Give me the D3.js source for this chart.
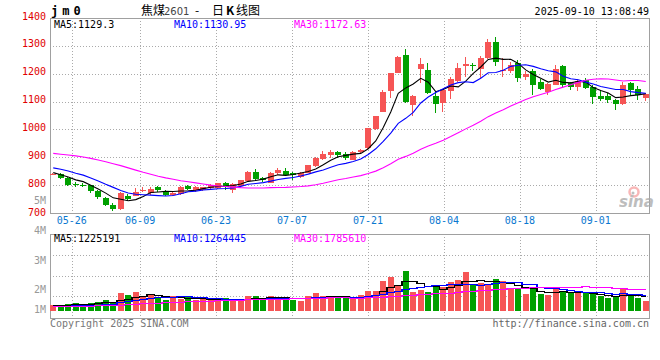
<!DOCTYPE html>
<meta charset="utf-8">
<script src="https://d3js.org/d3.v7.min.js"></script>
<style>
  body { margin: 0; background: #fff; }
  text { font-family: "DejaVu Sans Mono", monospace; font-size: 10px; }
</style>
<div id="chart"></div>
<script>

// trading days on the chart
var dates = ["05-21","05-22","05-23","05-26","05-27","05-28","05-29","05-30",
  "06-03","06-04","06-05","06-06","06-09","06-10","06-11","06-12","06-13","06-16","06-17","06-18","06-19","06-20",
  "06-23","06-24","06-25","06-26","06-27","06-30","07-01","07-02","07-03","07-04",
  "07-07","07-08","07-09","07-10","07-11","07-14","07-15","07-16","07-17","07-18",
  "07-21","07-22","07-23","07-24","07-25","07-28","07-29","07-30","07-31","08-01",
  "08-04","08-05","08-06","08-07","08-08","08-11","08-12","08-13","08-14","08-15",
  "08-18","08-19","08-20","08-21","08-22","08-25","08-26","08-27","08-28","08-29",
  "09-01","09-02","09-03","09-04","09-05","09-08","09-09","09-10"];
var tickDates = ["05-26","06-09","06-23","07-07","07-21","08-04","08-18","09-01"];

var open  = [838,840,826,804,802,799,780,755,728,714,762,762,778,772,792,780,763,769,797,781,
             781,791,790,806,781,797,816,847,824,809,845,851,842,829,844,867,895,909,920,911,
             890,920,932,1000,1064,1138,1204,1267,1089,1217,1213,1120,1096,1139,1175,1226,1233,1216,1255,1315,
             1208,1211,1237,1189,1208,1171,1135,1160,1226,1165,1151,1177,1151,1120,1120,1106,1092,1166,1144,1112];
var high  = [844,843,828,810,808,802,783,758,735,774,768,790,793,795,796,782,778,797,802,797,
             795,804,808,811,806,820,849,857,830,847,860,861,846,848,874,901,922,926,924,918,
             922,930,1006,1050,1140,1203,1263,1289,1125,1255,1239,1136,1146,1190,1237,1259,1240,1262,1325,1331,
             1255,1243,1250,1211,1216,1180,1165,1230,1230,1172,1180,1184,1160,1141,1129,1108,1172,1172,1155,1130];
var low   = [835,822,798,795,792,773,752,725,706,712,744,760,774,765,777,760,760,765,783,776,
             778,787,787,783,773,795,814,816,810,806,836,832,818,826,842,865,890,897,896,890,
             889,916,930,997,1062,1112,1202,1096,1048,1166,1128,1060,1064,1110,1172,1189,1210,1184,1252,1228,
             1189,1201,1170,1178,1124,1140,1124,1158,1153,1140,1137,1144,1091,1102,1096,1070,1088,1124,1106,1102];
var close = [841,825,801,799,797,778,756,727,714,771,752,776,784,785,781,763,773,794,786,792,
             792,799,806,793,804,818,847,822,817,845,854,837,838,845,872,899,912,920,908,896,
             920,926,1004,1048,1135,1201,1261,1100,1120,1235,1132,1090,1142,1180,1220,1234,1229,1258,1315,1243,
             1212,1231,1184,1198,1160,1145,1163,1216,1160,1151,1174,1148,1118,1109,1104,1091,1160,1143,1122,1127];

var volume = [500000,500000,580000,690000,580000,690000,740000,910000,640000,1510000,
              1320000,1600000,1180000,1430000,1180000,910000,1260000,970000,1130000,910000,
              970000,910000,910000,1100000,910000,910000,1240000,1240000,1050000,1240000,
              1130000,1130000,910000,850000,1240000,1460000,1240000,1240000,1050000,1050000,
              1050000,1320000,1650000,1650000,2480000,2830000,2170000,3330000,1570000,1740000,
              1570000,2170000,1960000,2400000,2560000,3220000,2170000,2340000,2170000,2640000,
              2480000,1790000,1790000,1400000,1960000,1400000,1320000,1880000,1650000,1510000,
              1510000,1460000,1460000,1240000,1050000,1180000,1790000,1400000,1050000,830000];

// moving averages before a full window exists
var ma5Head  = [845,837,829,819];
var ma10Head = [862,857,851,843,836,826,815,803,792];
var ma30Head = [914,911,908,905,901,896,890,884,877,870,862,854,846,839,832,826,821,816,812,808,
                804,800,797,795,793,791,790,790,790];
var vma5Head  = [500000,500000,520000,550000];
var vma10Head = [420000,430000,440000,460000,480000,500000,520000,550000,580000];
var vma30Head = [400000,410000,420000,430000,440000,450000,460000,470000,480000,530000,
                 570000,610000,640000,670000,700000,720000,740000,760000,790000,810000,
                 830000,850000,880000,900000,920000,940000,960000,970000,980000];

var priceTicks = [700,800,900,1000,1100,1200,1300,1400];
var volTicks = [5000000,4000000,3000000,2000000,1000000];
var volTickLabels = ["5M","4M","3M","2M","1M"];
var priceMaLabels = ["MA5:1129.3","MA10:1130.95","MA30:1172.63"];
var volMaLabels = ["MA5:1225191","MA10:1264445","MA30:1785610"];
var maColors = ["#000000","#0000ff","#ff00ff"];

var svg = d3.select("#chart").append("svg")
  .attr("width", 660).attr("height", 360);

var L = 50, R = 649;
var pTop = 18, pBot = 213, vTop = 234, vBot = 318;

var x = d3.scaleBand().domain(d3.range(dates.length))
  .range([49.5, 649.5]).paddingInner(0.2).paddingOuter(0.1);
var xt = d3.scaleLinear().domain([0, dates.length - 1]).range([49, 649]);
var y = d3.scaleLinear().domain([700, 1400]).range([pBot, pTop]);
var vy = d3.scaleLinear().domain([0, 6360000]).range([311, vTop]);
var vLabel = d3.scaleLinear().domain([2000000, 5000000]).range([293.3, 204]);

function cx(i) { return x(i) + x.bandwidth() / 2; }
function snap(v) { return Math.round(v) + 0.5; }

function movingAvg(values, n, head) {
  return values.map(function(v, i) {
    if (i < n - 1) return head[i];
    return d3.mean(values.slice(i - n + 1, i + 1));
  });
}

var priceMa = [movingAvg(close, 5, ma5Head), movingAvg(close, 10, ma10Head), movingAvg(close, 30, ma30Head)];
var volMa = [movingAvg(volume, 5, vma5Head), movingAvg(volume, 10, vma10Head), movingAvg(volume, 30, vma30Head)];

// grid
var grid = svg.append("g").attr("stroke", "#aaa").attr("stroke-dasharray", "1,2")
  .attr("shape-rendering", "crispEdges");
priceTicks.slice(1, -1).forEach(function(p) {
  grid.append("line").attr("x1", L).attr("x2", R).attr("y1", snap(y(p))).attr("y2", snap(y(p)));
});
[vTop + 21, vTop + 41.5, vTop + 61.5].forEach(function(v) {
  grid.append("line").attr("x1", L).attr("x2", R).attr("y1", snap(v)).attr("y2", snap(v));
});
tickDates.forEach(function(d) {
  var gx = snap(xt(dates.indexOf(d)));
  grid.append("line").attr("x1", gx).attr("x2", gx).attr("y1", pTop).attr("y2", pBot);
  grid.append("line").attr("x1", gx).attr("x2", gx).attr("y1", vTop).attr("y2", vBot);
});

// frames
var frame = svg.append("g").attr("stroke", "#a0a0a0").attr("fill", "none")
  .attr("shape-rendering", "crispEdges");
frame.append("path").attr("d", "M" + (L + 0.5) + "," + (pTop + 0.5) + "H" + R + "V" + (pBot + 0.5) + "H" + (L + 0.5) + "Z");
frame.append("path").attr("d", "M" + (L + 0.5) + "," + (vTop + 0.5) + "H" + R + "V" + (vBot + 0.5) + "H" + (L + 0.5) + "Z");
frame.append("line").attr("x1", R + 0.5).attr("x2", R + 0.5).attr("y1", pTop).attr("y2", pBot + 1);
frame.append("line").attr("x1", R + 0.5).attr("x2", R + 0.5).attr("y1", vTop).attr("y2", vBot + 1);

// sina watermark
var wm = svg.append("g").attr("opacity", 0.75);
wm.append("circle").attr("cx", 634).attr("cy", 192).attr("r", 4.5)
  .attr("fill", "none").attr("stroke", "#f7a0a0").attr("stroke-width", 2.5);
wm.append("circle").attr("cx", 633).attr("cy", 193).attr("r", 1.5).attr("fill", "#aaa");
wm.append("text").attr("x", 619).attr("y", 207)
  .style("font-family", "DejaVu Sans").style("font-size", "15px")
  .style("font-weight", "bold").style("font-style", "italic")
  .attr("fill", "#a8a8a8").text("sina");

svg.append("clipPath").attr("id", "pclip").append("rect")
  .attr("x", L).attr("y", pTop).attr("width", R - L).attr("height", pBot - pTop);

// candles
var candles = svg.append("g").attr("shape-rendering", "crispEdges");
dates.forEach(function(d, i) {
  var up = close[i] >= open[i];
  var col = up ? "#f65555" : "#00a000";
  var bx = Math.round(x(i));
  var top = Math.round(y(Math.max(open[i], close[i])));
  var bh = Math.max(1, Math.round(y(Math.min(open[i], close[i]))) - top);
  candles.append("line").attr("x1", bx + 2.5).attr("x2", bx + 2.5)
    .attr("y1", Math.round(y(high[i]))).attr("y2", Math.round(y(low[i])))
    .attr("stroke", col);
  candles.append("rect").attr("x", bx).attr("y", top)
    .attr("width", 6).attr("height", bh).attr("fill", col);
  // volume bar
  var vt = Math.round(vy(volume[i]));
  candles.append("rect").attr("x", bx).attr("y", vt)
    .attr("width", 6).attr("height", 311 - vt).attr("fill", col);
});

// MA lines
var priceLine = d3.line().x(function(d, i) { return cx(i); }).y(function(d) { return y(d); });
var volLine = d3.line().x(function(d, i) { return cx(i); }).y(function(d) { return snap(vy(d)); })
  .curve(d3.curveStep);
priceMa.forEach(function(ma, k) {
  svg.append("path").attr("d", priceLine(ma)).attr("fill", "none")
    .attr("stroke", maColors[k]).attr("stroke-width", 1.1).attr("clip-path", "url(#pclip)");
});
volMa.forEach(function(ma, k) {
  svg.append("path").attr("d", volLine(ma)).attr("fill", "none")
    .attr("stroke", maColors[k]).attr("stroke-width", 1.2).attr("shape-rendering", "crispEdges");
});

// axis labels
priceTicks.forEach(function(p) {
  svg.append("text").attr("x", 46).attr("y", y(p) + (p === 700 ? 2.5 : 1.5))
    .attr("text-anchor", "end").attr("fill", "#e00000").text(p);
});
volTicks.forEach(function(v, k) {
  svg.append("text").attr("x", 46).attr("y", Math.min(vLabel(v), 313.3))
    .attr("text-anchor", "end").attr("fill", "#999").text(volTickLabels[k]);
});
tickDates.forEach(function(d) {
  svg.append("text").attr("x", xt(dates.indexOf(d))).attr("y", 224)
    .attr("text-anchor", "middle").attr("fill", "#0a78d0").text(d);
});

// legends
[54, 174, 294].forEach(function(lx, k) {
  svg.append("text").attr("x", lx).attr("y", 27.5).attr("fill", maColors[k]).text(priceMaLabels[k]);
  svg.append("text").attr("x", lx).attr("y", 241.7).attr("fill", maColors[k]).text(volMaLabels[k]);
});

// titles
svg.append("text").attr("x", 51).attr("y", 15)
  .style("font-size", "12px").style("font-weight", "bold").style("letter-spacing", "4px")
  .text("jm0");
var t = svg.append("text").attr("y", 15).style("font-family", "Noto Sans CJK SC").style("font-size", "12px");
t.append("tspan").attr("x", 141).text("焦煤");
t.append("tspan").attr("x", 164).attr("fill", "#444").style("font-family", "DejaVu Sans").style("font-size", "10px").text("2601");
t.append("tspan").attr("x", 195).text("-");
t.append("tspan").attr("x", 212).text("日");
t.append("tspan").attr("x", 226).style("font-weight", "bold").text("K");
t.append("tspan").attr("x", 236).text("线图");
svg.append("text").attr("x", 649).attr("y", 15).attr("text-anchor", "end").text("2025-09-10 13:08:49");

svg.append("text").attr("x", 50).attr("y", 327).attr("fill", "#777").text("Copyright 2025 SINA.COM");
svg.append("text").attr("x", 649).attr("y", 327).attr("text-anchor", "end").attr("fill", "#666")
  .text("http://finance.sina.com.cn");

</script>
